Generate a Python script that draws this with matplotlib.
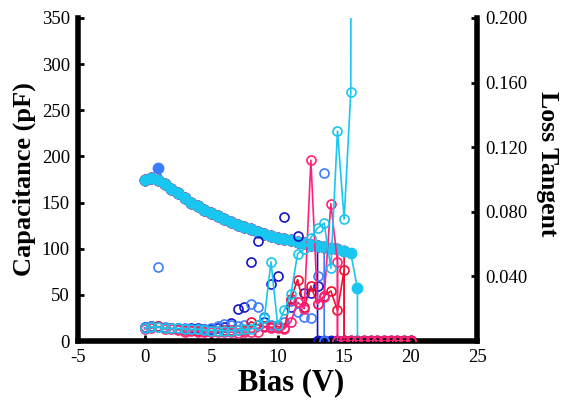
import numpy as np
import matplotlib
matplotlib.use("Agg")
import matplotlib.pyplot as plt

plt.rcParams['font.family'] = ['Liberation Serif', 'DejaVu Serif']
plt.rcParams['axes.unicode_minus'] = False

# =============================================================================
# Data (bias in V, capacitance in pF, loss tangent dimensionless)
# =============================================================================
cap_base = [175, 177, 175, 170, 165, 160, 155, 150, 146, 142, 139, 135, 132, 129,
            126, 123, 121, 118, 116, 114, 112, 110, 109, 107, 106, 104, 103, 102,
            101, 100, 98, 95]

# dark blue sample, breaks at 13.0 V
db_bias = [0.5 * i for i in range(27)] + [13.0] + [13.5 + 0.5 * i for i in range(14)]
db_cap = cap_base[:27] + [0] * 15
db_loss = [0.0086, 0.0090, 0.0095, 0.0080, 0.0080, 0.0078, 0.0075, 0.0082, 0.0082,
           0.0075, 0.0072, 0.0080, 0.0085, 0.0110, 0.0200, 0.0210, 0.0490, 0.0620,
           0.0120, 0.0350, 0.0400, 0.0770, 0.0210, 0.0650, 0.0300, 0.0300, 0.0340] + [0] * 15

# light blue sample, breaks at 13.5 V
lb_bias = [0.5 * i for i in range(28)] + [13.5]
lb_cap = cap_base[:2] + [188] + cap_base[3:28] + [0]
lb_loss = [0.0086, 0.0090, 0.0460, 0.0085, 0.0080, 0.0080, 0.0078, 0.0075, 0.0072,
           0.0075, 0.0080, 0.0095, 0.0105, 0.0100, 0.0095, 0.0100, 0.0230, 0.0210,
           0.0150, 0.0100, 0.0090, 0.0120, 0.0250, 0.0180, 0.0150, 0.0140, 0.0400,
           0.1040, 0]

# red sample, breaks at 15.0 V
rd_bias = [0.5 * i for i in range(31)] + [15.0] + [15.5 + 0.5 * i for i in range(10)]
rd_cap = cap_base[:31] + [0] * 11
rd_loss = [0.0080, 0.0085, 0.0090, 0.0080, 0.0078, 0.0075, 0.0070, 0.0068, 0.0065,
           0.0065, 0.0063, 0.0065, 0.0068, 0.0068, 0.0070, 0.0070, 0.0120, 0.0100,
           0.0090, 0.0085, 0.0090, 0.0080, 0.0260, 0.0380, 0.0210, 0.0340, 0.0230,
           0.0280, 0.0310, 0.0190, 0.0440] + [0] * 11

# pink sample, breaks at 14.5 V
pk_bias = [0.5 * i for i in range(30)] + [14.5] + [15.0 + 0.5 * i for i in range(11)]
pk_cap = cap_base[:30] + [0] * 12
pk_loss = [0.0075, 0.0080, 0.0085, 0.0075, 0.0072, 0.0070, 0.0058, 0.0062, 0.0058,
           0.0055, 0.0055, 0.0058, 0.0058, 0.0055, 0.0052, 0.0055, 0.0055, 0.0058,
           0.0085, 0.0080, 0.0078, 0.0075, 0.0120, 0.0240, 0.0200, 0.1120, 0.0230,
           0.0270, 0.0850, 0.0490] + [0] * 12

# cyan sample, breaks at 16.0 V (loss tangent runs off the top)
cy_bias = [0.5 * i for i in range(33)] + [16.0]
cy_cap = cap_base[:32] + [57, 0]
cy_loss = [0.0080, 0.0085, 0.0088, 0.0080, 0.0078, 0.0078, 0.0075, 0.0072, 0.0072,
           0.0068, 0.0065, 0.0065, 0.0065, 0.0065, 0.0068, 0.0072, 0.0072, 0.0100,
           0.0140, 0.0490, 0.0100, 0.0190, 0.0290, 0.0540, 0.0570, 0.0640, 0.0700,
           0.0730, 0.0450, 0.1300, 0.0755, 0.1540, 3.0, np.nan]

# (bias, cap, loss, colour, loss drawn with line)
samples = [
    (db_bias, db_cap, db_loss, '#1414C8', False),
    (lb_bias, lb_cap, lb_loss, '#3C7DFF', False),
    (rd_bias, rd_cap, rd_loss, '#EE1030', True),
    (pk_bias, pk_cap, pk_loss, '#FF2278', True),
    (cy_bias, cy_cap, cy_loss, '#18C6F0', True),
]

# =============================================================================
# Plot
# =============================================================================
fig = plt.figure(figsize=(5.62, 4.0), dpi=100)
ax = fig.add_axes([0.139, 0.1475, 0.71, 0.8075])
ax2 = ax.twinx()

for bias, cap, loss, color, loss_line in samples:
    ax.plot(bias, cap, '-o', color=color, lw=1.2, ms=7.5, mfc=color, mec=color)

for bias, cap, loss, color, loss_line in samples:
    ax2.plot(bias, loss, '-o' if loss_line else 'o', color=color, lw=1.2,
             ms=6.5, mfc='none', mec=color, mew=1.2)

ax.set_xlim(-5, 25)
ax.set_ylim(0, 350)
ax2.set_ylim(0, 0.2)
ax.set_xticks(range(-5, 30, 5))
ax.set_yticks(range(0, 400, 50))
ax2.set_yticks([0.04, 0.08, 0.12, 0.16, 0.20])
ax2.set_yticklabels(['0.040', '0.080', '0.120', '0.160', '0.200'])

for s in ['top', 'right']:
    ax.spines[s].set_visible(False)
for s in ['top', 'left', 'bottom']:
    ax2.spines[s].set_visible(False)
for sp in [ax.spines['left'], ax.spines['bottom'], ax2.spines['right']]:
    sp.set_linewidth(4)

ax.tick_params(direction='in', length=4, width=2, labelsize=13.5, pad=6)
ax2.tick_params(direction='in', length=4, width=2, labelsize=13.5, pad=6)

ax.set_xlabel('Bias (V)', fontsize=22, fontweight='bold')
ax.xaxis.set_label_coords(0.535, -0.085)
ax.set_ylabel('Capacitance (pF)', fontsize=19, fontweight='bold', labelpad=4)
ax2.set_ylabel('Loss Tangent', fontsize=18.5, fontweight='bold', rotation=270)
ax2.yaxis.set_label_coords(1.205, 0.55)

fig.savefig('out.png', dpi=100)
